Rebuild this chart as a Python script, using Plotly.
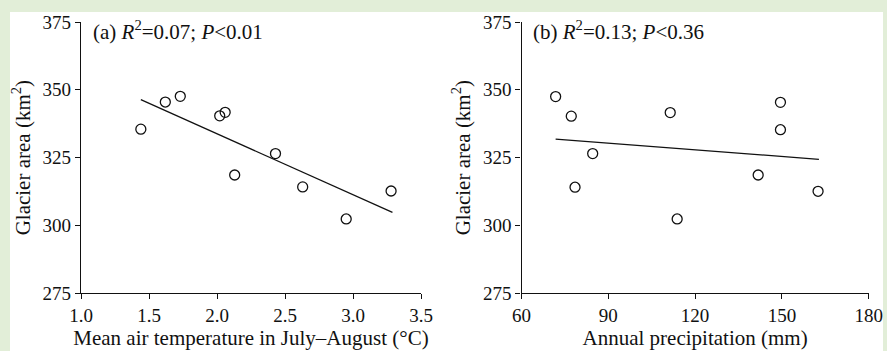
import plotly.graph_objects as go

# Data
glacier_area = [335.5, 345.5, 347.6, 340.4, 341.7, 318.6, 326.5, 314.2, 302.4, 312.7]
temperature = [1.44, 1.62, 1.73, 2.02, 2.06, 2.13, 2.43, 2.63, 2.95, 3.28]

precip_area = [347.5, 340.3, 314.1, 326.5, 341.6, 302.4, 318.6, 345.4, 335.3, 312.6]
precipitation = [71.8, 77.2, 78.5, 84.6, 111.4, 113.8, 141.8, 149.5, 149.5, 162.5]

trend_a_x = [1.44, 3.29]
trend_a_y = [346.4, 304.8]
trend_b_x = [71.8, 162.8]
trend_b_y = [331.8, 324.4]

x_ticks_a = [1.0, 1.5, 2.0, 2.5, 3.0, 3.5]
x_ticks_b = [60, 90, 120, 150, 180]
y_ticks = [275, 300, 325, 350, 375]

W, H = 887, 351
FONT = "Liberation Serif"
FS = 19
FT = 21
INK = "#111111"
GREEN = "#e2eed8"

fig = go.Figure()

marker = dict(symbol="circle-open", size=10, color=INK, line=dict(width=1.3, color=INK))

fig.add_trace(go.Scatter(x=temperature, y=glacier_area, mode="markers", marker=marker,
                         xaxis="x", yaxis="y", showlegend=False))
fig.add_trace(go.Scatter(x=trend_a_x, y=trend_a_y, mode="lines", line=dict(color=INK, width=1.3),
                         xaxis="x", yaxis="y", showlegend=False))
fig.add_trace(go.Scatter(x=precipitation, y=precip_area, mode="markers", marker=marker,
                         xaxis="x2", yaxis="y2", showlegend=False))
fig.add_trace(go.Scatter(x=trend_b_x, y=trend_b_y, mode="lines", line=dict(color=INK, width=1.3),
                         xaxis="x2", yaxis="y2", showlegend=False))

ydom = [1 - 293.3 / H, 1 - 22 / H]
common_axis = dict(showgrid=False, zeroline=False, showline=True, linecolor=INK, linewidth=1.2,
                   ticks="outside", ticklen=5, tickwidth=1.2, tickcolor=INK, automargin=False,
                   tickfont=dict(family=FONT, size=FS, color=INK))

fig.update_layout(
    width=W, height=H,
    margin=dict(l=0, r=0, t=0, b=0),
    paper_bgcolor=GREEN,
    plot_bgcolor="rgba(0,0,0,0)",
    font=dict(family=FONT, size=FS, color=INK),
    xaxis=dict(domain=[81 / W, 421 / W], range=[1.0, 3.5], tickvals=x_ticks_a,
               ticktext=[f"{v:.1f}" for v in x_ticks_a], anchor="y",
               title=dict(text="Mean air temperature in July–August (°C)", standoff=0,
                          font=dict(family=FONT, size=FT, color=INK)),
               **common_axis),
    yaxis=dict(domain=ydom, range=[275, 375], tickvals=y_ticks, anchor="x",
               title=dict(text="Glacier area (km<sup>2</sup>)", standoff=6,
                          font=dict(family=FONT, size=FT, color=INK)),
               **common_axis),
    xaxis2=dict(domain=[521.5 / W, 868.7 / W], range=[60, 180], tickvals=x_ticks_b, anchor="y2",
                title=dict(text="Annual precipitation (mm)", standoff=0,
                           font=dict(family=FONT, size=FT, color=INK)),
                **common_axis),
    yaxis2=dict(domain=ydom, range=[275, 375], tickvals=y_ticks, anchor="x2",
                title=dict(text="Glacier area (km<sup>2</sup>)", standoff=6,
                           font=dict(family=FONT, size=FT, color=INK)),
                **common_axis),
)

fig.add_shape(type="rect", xref="paper", yref="paper",
              x0=10 / W, x1=883 / W, y0=0, y1=1 - 12 / H,
              fillcolor="white", line=dict(width=0), layer="below")

fig.add_annotation(text="(a) <i>R</i><sup>2</sup>=0.07; <i>P</i><0.01", xref="paper", yref="paper",
                   x=91 / W, y=1 - 31 / H, xanchor="left", yanchor="middle", showarrow=False,
                   font=dict(family=FONT, size=FT, color=INK))
fig.add_annotation(text="(b) <i>R</i><sup>2</sup>=0.13; <i>P</i><0.36", xref="paper", yref="paper",
                   x=531 / W, y=1 - 31 / H, xanchor="left", yanchor="middle", showarrow=False,
                   font=dict(family=FONT, size=FT, color=INK))

fig.write_html("out.html", config={"displayModeBar": False},
               post_script="document.body.style.margin='0';document.body.style.padding='0';"
                           "document.documentElement.style.overflow='hidden';")
